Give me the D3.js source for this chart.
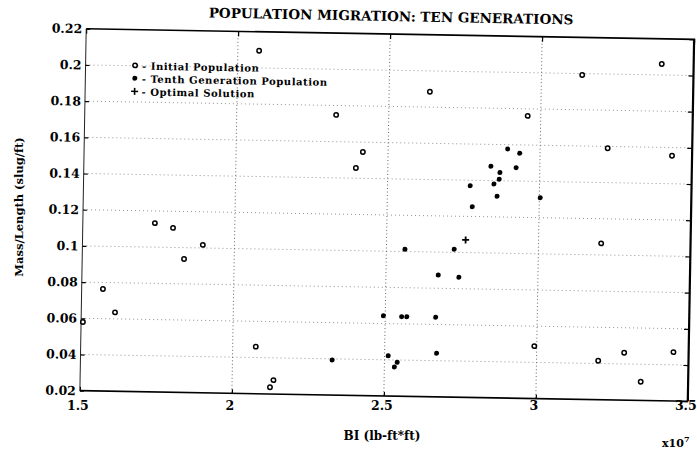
<!DOCTYPE html>
<html><head><meta charset="utf-8">
<script src="https://cdn.jsdelivr.net/npm/d3@7"></script>
<style>body{margin:0;background:#fff}svg{display:block}</style>
</head><body><svg id="c" width="697" height="452"></svg>
<script>
// ---- data ----
const initialX = [1.506,1.570,1.611,1.737,1.797,1.835,1.896,2.070,2.076,2.136,2.125,2.327,2.395,2.417,2.634,2.957,2.992,3.134,3.222,3.206,3.203,3.288,3.344,3.395,3.434,3.450];
const initialY = [0.058,0.0764,0.0636,0.1133,0.1108,0.0937,0.1017,0.2095,0.046,0.0277,0.0237,0.1748,0.1457,0.1546,0.1885,0.1761,0.049,0.1992,0.159,0.1064,0.0415,0.0462,0.0303,0.2061,0.1555,0.047];
const tenthX = [2.328,2.494,2.512,2.542,2.533,2.554,2.571,2.666,2.671,2.561,2.672,2.740,2.723,2.780,2.772,2.850,2.861,2.867,2.869,2.839,2.922,2.893,2.933,3.003];
const tenthY = [0.0394,0.0643,0.0422,0.0387,0.0361,0.064,0.064,0.064,0.0441,0.1012,0.0873,0.0863,0.1017,0.1254,0.137,0.1382,0.1314,0.1408,0.1445,0.1479,0.1474,0.1576,0.1554,0.131];
const optimalX = [2.760];
const optimalY = [0.107];
const xTicks = [1.5, 2, 2.5, 3, 3.5];
const xTickLabels = ["1.5", "2", "2.5", "3", "3.5"];
const yTicks = [0.02,0.04,0.06,0.08,0.1,0.12,0.14,0.16,0.18,0.2,0.22];
const yTickLabels = ["0.02","0.04","0.06","0.08","0.1","0.12","0.14","0.16","0.18","0.2","0.22"];
const legendLabels = ["- Initial Population", "- Tenth Generation Population", "- Optimal Solution"];
const titleText = "POPULATION MIGRATION: TEN GENERATIONS";
const xTitle = "BI (lb-ft*ft)";
const yTitle = "Mass/Length (slug/ft)";

// ---- layout ----
const L = 83, R = 691, T = 34, B = 396;
const cx = 387, cy = 215, ang = 1.0;
const FONT = "'DejaVu Serif', serif";
const svg = d3.select("#c");
const x = d3.scaleLinear().domain([1.5, 3.5]).range([L, R]);
const y = d3.scaleLinear().domain([0.02, 0.22]).range([B, T]);
const rad = ang * Math.PI / 180;
function rot(px, py) {
  const dx = px - cx, dy = py - cy;
  return [cx + dx * Math.cos(rad) - dy * Math.sin(rad), cy + dx * Math.sin(rad) + dy * Math.cos(rad)];
}

const g = svg.append("g").attr("transform", `rotate(${ang},${cx},${cy})`);

// grid
g.append("g").selectAll("line").data(yTicks.slice(1, -1)).join("line")
  .attr("x1", L).attr("x2", R).attr("y1", d => y(d)).attr("y2", d => y(d))
  .attr("stroke", "#888").attr("stroke-width", 0.9).attr("stroke-dasharray", "1,3");
g.append("g").selectAll("line").data(xTicks.slice(1, -1)).join("line")
  .attr("y1", T).attr("y2", B).attr("x1", d => x(d)).attr("x2", d => x(d))
  .attr("stroke", "#555").attr("stroke-width", 0.9).attr("stroke-dasharray", "1,2.5");

// axes via d3 axis generators (inward ticks)
const axL = g.append("g").attr("transform", `translate(${L},0)`)
  .call(d3.axisRight(y).tickValues(yTicks).tickFormat("").tickSize(4));
const axR = g.append("g").attr("transform", `translate(${R},0)`)
  .call(d3.axisLeft(y).tickValues(yTicks).tickFormat("").tickSize(5));
const axT = g.append("g").attr("transform", `translate(0,${T})`)
  .call(d3.axisBottom(x).tickValues(xTicks).tickFormat("").tickSize(5));
const axB = g.append("g").attr("transform", `translate(0,${B})`)
  .call(d3.axisTop(x).tickValues(xTicks).tickFormat("").tickSize(4));
[axL, axR, axT, axB].forEach(a => { a.select(".domain").remove(); a.selectAll("line").attr("stroke", "#000").attr("stroke-width", 1.2); });

// frame
g.append("line").attr("x1", L).attr("x2", L).attr("y1", T).attr("y2", B).attr("stroke", "#222").attr("stroke-width", 1);
g.append("line").attr("x1", L).attr("x2", R).attr("y1", B).attr("y2", B).attr("stroke", "#000").attr("stroke-width", 1.6);
g.append("line").attr("x1", L).attr("x2", R + 1).attr("y1", T).attr("y2", T).attr("stroke", "#000").attr("stroke-width", 1.6);
g.append("line").attr("x1", R).attr("x2", R).attr("y1", T).attr("y2", B).attr("stroke", "#000").attr("stroke-width", 2.2);

// y tick labels
g.append("g").selectAll("text").data(yTicks).join("text")
  .attr("x", L - 4).attr("y", d => y(d)).attr("dy", "0.36em")
  .attr("text-anchor", "end").attr("font-family", FONT).attr("font-weight", "bold")
  .attr("font-size", 12.5).text((d, i) => yTickLabels[i]);

// points
const initial = initialX.map((v, i) => [v, initialY[i]]);
const tenth = tenthX.map((v, i) => [v, tenthY[i]]);
const optimal = optimalX.map((v, i) => [v, optimalY[i]]);
g.append("g").selectAll("circle").data(initial).join("circle")
  .attr("cx", d => x(d[0])).attr("cy", d => y(d[1])).attr("r", 2.2)
  .attr("fill", "#fff").attr("stroke", "#000").attr("stroke-width", 1.5);
g.append("g").selectAll("circle").data(tenth).join("circle")
  .attr("cx", d => x(d[0])).attr("cy", d => y(d[1])).attr("r", 2.5)
  .attr("fill", "#000");
const plus = g.append("g").selectAll("g").data(optimal).join("g")
  .attr("transform", d => `translate(${x(d[0])},${y(d[1])})`);
plus.append("line").attr("x1", -3.5).attr("x2", 3.5).attr("stroke", "#000").attr("stroke-width", 1.8);
plus.append("line").attr("y1", -3.5).attr("y2", 3.5).attr("stroke", "#000").attr("stroke-width", 1.8);

// legend
const lg = g.append("g");
const lx = 132.5, ly0 = 74, lstep = 12.9;
lg.append("circle").attr("cx", lx).attr("cy", ly0 - 4.2).attr("r", 2.2).attr("fill", "#fff").attr("stroke", "#000").attr("stroke-width", 1.5);
lg.append("circle").attr("cx", lx).attr("cy", ly0 + lstep - 4.2).attr("r", 2.5).attr("fill", "#000");
lg.append("line").attr("x1", lx - 3.5).attr("x2", lx + 3.5).attr("y1", ly0 + 2 * lstep - 4).attr("y2", ly0 + 2 * lstep - 4).attr("stroke", "#000").attr("stroke-width", 1.6);
lg.append("line").attr("x1", lx).attr("x2", lx).attr("y1", ly0 + 2 * lstep - 7.5).attr("y2", ly0 + 2 * lstep - 0.5).attr("stroke", "#000").attr("stroke-width", 1.6);
lg.selectAll("text").data(legendLabels).join("text")
  .attr("x", lx + 7).attr("y", (d, i) => ly0 + i * lstep)
  .attr("font-family", FONT).attr("font-weight", "bold").attr("font-size", 10)
  .attr("letter-spacing", 0.55)
  .text(d => d);

// x tick labels (outside the tilted frame, level baseline)
svg.append("g").selectAll("text").data(xTicks).join("text")
  .attr("x", d => rot(x(d), B)[0] - 2).attr("y", 410)
  .attr("text-anchor", "middle").attr("font-family", FONT).attr("font-weight", "bold")
  .attr("font-size", 12.5).text((d, i) => xTickLabels[i]);

// title
svg.append("text").attr("x", 391).attr("y", 21).attr("text-anchor", "middle")
  .attr("transform", "rotate(1.1,391,21)")
  .attr("font-family", FONT).attr("font-weight", "bold").attr("font-size", 13.5)
  .text(titleText);

// axis titles
svg.append("text").attr("x", 382).attr("y", 440).attr("text-anchor", "middle")
  .attr("font-family", FONT).attr("font-weight", "bold").attr("font-size", 12).text(xTitle);
svg.append("text").attr("transform", "translate(23,207) rotate(-90)").attr("text-anchor", "middle")
  .attr("font-family", FONT).attr("font-weight", "bold").attr("font-size", 11.5).text(yTitle);
const ex = svg.append("text").attr("x", 662).attr("y", 447)
  .attr("font-family", FONT).attr("font-weight", "bold").attr("font-size", 11);
ex.append("tspan").text("x10");
ex.append("tspan").attr("dy", -5).attr("font-size", 8).text("7");
</script>
</body></html>
